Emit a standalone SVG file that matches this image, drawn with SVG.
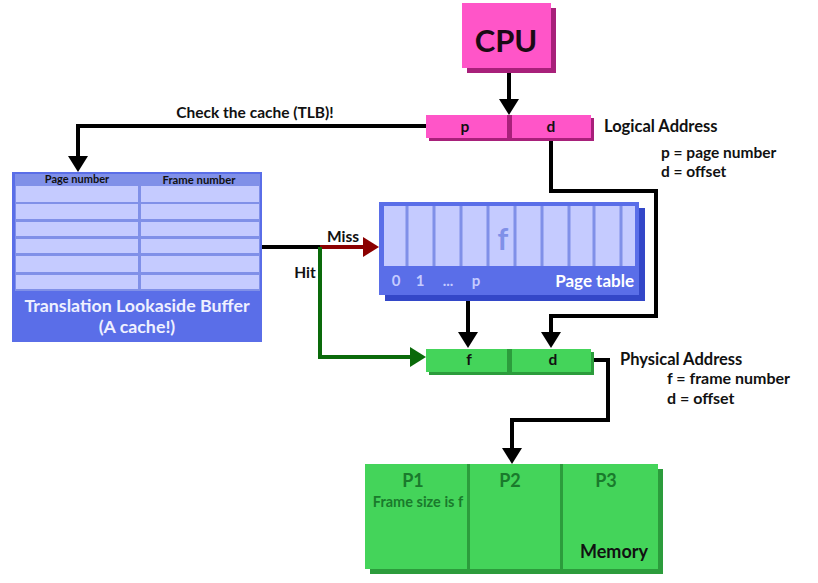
<svg xmlns="http://www.w3.org/2000/svg" width="818" height="583" viewBox="0 0 818 583">
<defs>
<style>
text{font-family:Lato,"Noto Sans","Liberation Sans",sans-serif;font-weight:bold}
.lbl{font-size:15.5px;fill:#111}
.mid{text-anchor:middle}
.wire{fill:none;stroke:#000;stroke-width:4;stroke-linejoin:miter}
</style>
<marker id="ab" viewBox="0 0 16 20" refX="2" refY="10" markerWidth="16" markerHeight="20" markerUnits="userSpaceOnUse" orient="auto"><path d="M0,0L16,10L0,20z" fill="#000"/></marker>
<marker id="ar" viewBox="0 0 16 20" refX="2" refY="10" markerWidth="16" markerHeight="20" markerUnits="userSpaceOnUse" orient="auto"><path d="M0,0L16,10L0,20z" fill="#8b0000"/></marker>
<marker id="ag" viewBox="0 0 16 20" refX="2" refY="10" markerWidth="16" markerHeight="20" markerUnits="userSpaceOnUse" orient="auto"><path d="M0,0L16,10L0,20z" fill="#0a6a0a"/></marker>
</defs>
<rect width="818" height="583" fill="#fff"/>

<g id="connectors">
<path class="wire" d="M509,72V101" marker-end="url(#ab)"/>
<path class="wire" d="M426,126H78V158" marker-end="url(#ab)"/>
<path class="wire" d="M551,141V191H656V316H551V334" marker-end="url(#ab)"/>
<path class="wire" d="M468,300V334" marker-end="url(#ab)"/>
<path class="wire" d="M262,247H320"/>
<path d="M320,247H365" fill="none" stroke="#8b0000" stroke-width="4" marker-end="url(#ar)"/>
<path d="M320,247V357H412" fill="none" stroke="#0a6a0a" stroke-width="4" marker-end="url(#ag)"/>
<path class="wire" d="M591,360H608V420H512V450" marker-end="url(#ab)"/>
<text class="lbl mid" x="255" y="118">Check the cache (TLB)!</text>
<text class="lbl mid" x="343" y="242">Miss</text>
<text class="lbl mid" x="305" y="278">Hit</text>
</g>

<g id="cpu">
<rect x="467" y="8" width="89" height="65" fill="#a8207a"/>
<rect x="462" y="3" width="89" height="65" fill="#ff55c8"/>
<text x="506" y="52" class="mid" style="font-size:31px;fill:#1a0a14">CPU</text>
</g>

<g id="logical-address">
<rect x="429" y="118" width="165" height="23" fill="#a8207a"/>
<rect x="426" y="115" width="165" height="23" fill="#ff55c8"/>
<rect x="507" y="115" width="5" height="23" fill="#a8207a"/>
<text class="lbl mid" x="465" y="132">p</text>
<text class="lbl mid" x="551" y="132">d</text>
<text class="lbl" x="604" y="132" style="font-size:16.5px">Logical Address</text>
<text class="lbl" x="661" y="158">p = page number</text>
<text class="lbl" x="661" y="177">d = offset</text>
</g>

<g id="tlb">
<rect x="12" y="172" width="250" height="170" fill="#5a6ee8"/>
<rect x="15" y="174" width="245" height="117" fill="#8090e8"/>
<g fill="#c5cbff">
<rect x="16" y="186" width="122" height="16"/><rect x="141" y="186" width="118" height="16"/>
<rect x="16" y="204" width="122" height="15"/><rect x="141" y="204" width="118" height="15"/>
<rect x="16" y="222" width="122" height="14"/><rect x="141" y="222" width="118" height="14"/>
<rect x="16" y="239" width="122" height="14"/><rect x="141" y="239" width="118" height="14"/>
<rect x="16" y="256" width="122" height="16"/><rect x="141" y="256" width="118" height="16"/>
<rect x="16" y="275" width="122" height="14"/><rect x="141" y="275" width="118" height="14"/>
</g>
<text class="mid" x="77" y="183" style="font-size:11px;fill:#111">Page number</text>
<text class="mid" x="199" y="184" style="font-size:11.3px;fill:#111">Frame number</text>
<text class="mid" x="137" y="312" style="font-size:17.8px;fill:#eef0ff">Translation Lookaside Buffer</text>
<text class="mid" x="137" y="333" style="font-size:17.8px;fill:#eef0ff">(A cache!)</text>
</g>

<g id="page-table">
<rect x="385" y="208" width="260" height="93" fill="#3347c8"/>
<rect x="379" y="202" width="260" height="93" fill="#5a6ee8"/>
<rect x="384" y="206" width="251" height="60" fill="#c5cbff"/>
<g stroke="#8090e8" stroke-width="3">
<path d="M407,206V266M434,206V266M461,206V266M488,206V266M515,206V266M542,206V266M569,206V266M594,206V266M621,206V266"/>
</g>
<text class="mid" x="503" y="250" style="font-size:30px;fill:#8090e8">f</text>
<g style="font-size:15px;fill:#c5cbff">
<text class="mid" x="396" y="286">0</text>
<text class="mid" x="420" y="286">1</text>
<text class="mid" x="448" y="286">...</text>
<text class="mid" x="476" y="286">p</text>
</g>
<text x="634" y="287" style="font-size:17px;fill:#fff;text-anchor:end">Page table</text>
</g>

<g id="physical-address">
<rect x="429" y="352" width="165" height="23" fill="#2c9c3c"/>
<rect x="426" y="349" width="165" height="23" fill="#44d45a"/>
<rect x="507" y="349" width="5" height="23" fill="#2c9c3c"/>
<text class="lbl mid" x="469" y="365">f</text>
<text class="lbl mid" x="553" y="365">d</text>
<text class="lbl" x="620" y="365" style="font-size:16.5px">Physical Address</text>
<text class="lbl" x="667" y="384" style="font-size:16px">f = frame number</text>
<text class="lbl" x="667" y="404" style="font-size:16px">d = offset</text>
</g>

<g id="memory">
<rect x="370" y="469" width="293" height="105" fill="#2c9c3c"/>
<rect x="365" y="464" width="293" height="105" fill="#44d45a"/>
<rect x="467" y="464" width="3" height="105" fill="#2c9c3c"/>
<rect x="560" y="464" width="3" height="105" fill="#2c9c3c"/>
<g style="font-size:18px;fill:#1a7a2c">
<text class="mid" x="413" y="487">P1</text>
<text class="mid" x="510" y="487">P2</text>
<text class="mid" x="606" y="487">P3</text>
</g>
<text class="mid" x="418" y="507" style="font-size:14.5px;fill:#1a7a2c">Frame size is f</text>
<text class="mid" x="614" y="558" style="font-size:18px;fill:#111">Memory</text>
</g>
</svg>
